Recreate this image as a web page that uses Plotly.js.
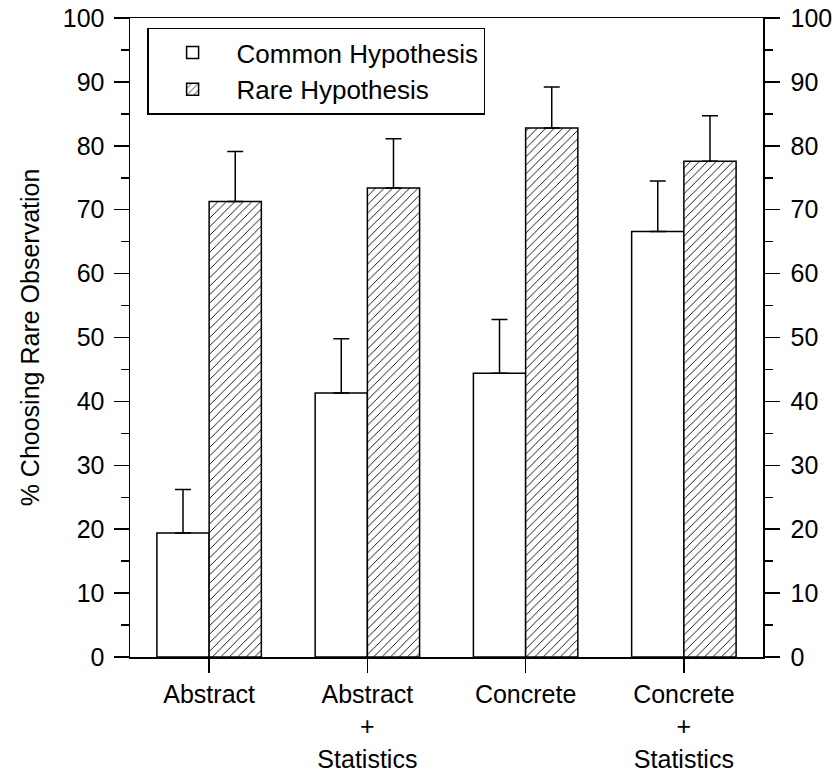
<!DOCTYPE html>
<html>
<head>
<meta charset="utf-8">
<script src="https://cdn.plot.ly/plotly-3.0.1.min.js"></script>
<style>html,body{margin:0;padding:0;background:#fff;}#chart{width:840px;height:776px;}</style>
</head>
<body>
<div id="chart"></div>
<script>
// Data
const categories = ["Abstract", "Abstract + Statistics", "Concrete", "Concrete + Statistics"];
const tickLabels = ["Abstract", "Abstract<br>+<br>Statistics", "Concrete", "Concrete<br>+<br>Statistics"];
const commonValues = [19.4, 41.3, 44.4, 66.6];
const commonErrors = [6.8, 8.5, 8.4, 7.9];
const rareValues = [71.3, 73.4, 82.8, 77.6];
const rareErrors = [7.8, 7.7, 6.4, 7.1];
const yTicks = [0, 10, 20, 30, 40, 50, 60, 70, 80, 90, 100];

const FONT = "Liberation Sans, Arial, Helvetica, sans-serif";
const zeros = a => a.map(() => 0);

const traces = [
  {
    type: "bar", name: "Common Hypothesis", x: categories, y: commonValues,
    marker: {color: "#ffffff", line: {color: "#000", width: 1.5}},
    error_y: {type: "data", symmetric: false, array: commonErrors, arrayminus: zeros(commonErrors),
              color: "#000", thickness: 1.5, width: 8}
  },
  {
    type: "bar", name: "Rare Hypothesis", x: categories, y: rareValues,
    marker: {color: "#ffffff", line: {color: "#000", width: 1.5},
             pattern: {shape: "/", fgcolor: "#000", bgcolor: "#fff", size: 6, solidity: 0.15}},
    error_y: {type: "data", symmetric: false, array: rareErrors, arrayminus: zeros(rareErrors),
              color: "#000", thickness: 1.5, width: 8}
  },
  {
    type: "scatter", mode: "markers", x: categories, y: rareValues, yaxis: "y2",
    marker: {opacity: 0}, showlegend: false, hoverinfo: "skip"
  }
];

const axisCommon = {
  range: [0, 100], tickmode: "array", tickvals: yTicks, ticktext: yTicks.map(String),
  ticks: "outside", ticklen: 15, tickwidth: 1.5, tickcolor: "#000",
  showline: true, linecolor: "#000", linewidth: 1.5, showgrid: false, zeroline: false,
  tickfont: {family: FONT, size: 25, color: "#000"}, ticklabelstandoff: 4,
  minor: {dtick: 5, ticks: "outside", ticklen: 8, tickwidth: 1.5, tickcolor: "#000", showgrid: false}
};

const layout = {
  width: 840, height: 776,
  margin: {l: 130, r: 77, t: 18, b: 119},
  paper_bgcolor: "#fff", plot_bgcolor: "#fff",
  font: {family: FONT, size: 25, color: "#000"},
  barmode: "group", bargap: 0.34, bargroupgap: 0,
  showlegend: true,
  legend: {
    x: 0.027, y: 0.985, xanchor: "left", yanchor: "top",
    bgcolor: "#fff", bordercolor: "#000", borderwidth: 1.5,
    font: {family: FONT, size: 26, color: "#000"}, tracegroupgap: 0,
    itemwidth: 78
  },
  xaxis: {
    type: "category", range: [-0.5, 3.5],
    tickmode: "array", tickvals: categories, ticktext: tickLabels,
    ticks: "outside", ticklen: 14, tickwidth: 1.5, tickcolor: "#000",
    showline: true, linecolor: "#000", linewidth: 1.5, mirror: true, showgrid: false,
    tickfont: {family: FONT, size: 25, color: "#000"}
  },
  yaxis: Object.assign({}, axisCommon, {
    title: {text: "% Choosing Rare Observation", font: {family: FONT, size: 25, color: "#000"}, standoff: 16}
  }),
  yaxis2: Object.assign({}, axisCommon, {overlaying: "y", side: "right", ticklabelstandoff: 6})
};

Plotly.newPlot("chart", traces, layout, {displayModeBar: false, staticPlot: true});
</script>
</body>
</html>
